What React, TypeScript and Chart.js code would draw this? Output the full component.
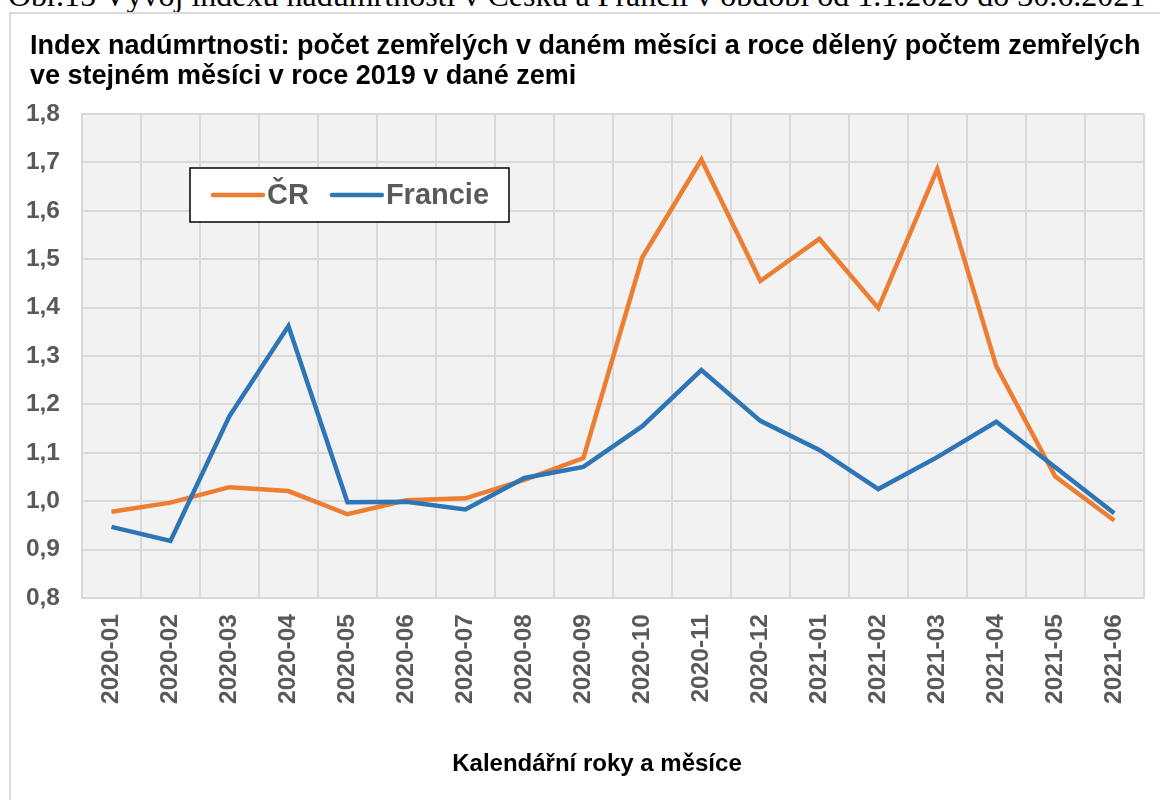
import React, { useEffect, useRef } from "react";
import { Chart, registerables } from "chart.js";

Chart.register(...registerables);

const categories: string[] = [
  "2020-01", "2020-02", "2020-03", "2020-04", "2020-05", "2020-06",
  "2020-07", "2020-08", "2020-09", "2020-10", "2020-11", "2020-12",
  "2021-01", "2021-02", "2021-03", "2021-04", "2021-05", "2021-06",
];

const crValues: number[] = [
  0.978, 0.997, 1.029, 1.021, 0.973, 1.002, 1.006, 1.044, 1.089,
  1.504, 1.706, 1.455, 1.542, 1.399, 1.686, 1.279, 1.051, 0.960,
];

const francieValues: number[] = [
  0.947, 0.918, 1.176, 1.362, 0.998, 0.999, 0.983, 1.048, 1.071,
  1.155, 1.271, 1.166, 1.106, 1.025, 1.091, 1.164, 1.070, 0.975,
];

const seriesLabels: string[] = ["ČR", "Francie"];
const seriesColors: string[] = ["#ED7D31", "#2E75B6"];

const captionText =
  "Obr.15 Vývoj indexu nadúmrtnosti v Česku a Francii v období od 1.1.2020 do 30.6.2021";
const titleLine1 =
  "Index nadúmrtnosti:  počet zemřelých v daném měsíci a roce dělený počtem zemřelých";
const titleLine2 = "ve stejném měsíci v roce 2019 v dané zemi";
const xAxisTitle = "Kalendářní roky a měsíce";

const FONT = "'Liberation Sans', Arial, sans-serif";

const plotBgPlugin = {
  id: "plotBg",
  beforeDraw(chart: any) {
    const { ctx, chartArea } = chart;
    ctx.save();
    ctx.fillStyle = "#f2f2f2";
    ctx.fillRect(chartArea.left, chartArea.top, chartArea.right - chartArea.left, chartArea.bottom - chartArea.top);
    ctx.restore();
  },
};

const innerLegendPlugin = {
  id: "innerLegend",
  afterDraw(chart: any) {
    const { ctx, chartArea } = chart;
    const x = chartArea.left + 108;
    const y = chartArea.top + 54;
    const w = 319;
    const h = 54;
    ctx.save();
    ctx.fillStyle = "#ffffff";
    ctx.fillRect(x, y, w, h);
    ctx.strokeStyle = "#000000";
    ctx.lineWidth = 1.5;
    ctx.strokeRect(x, y, w, h);
    ctx.font = `bold 29px ${FONT}`;
    ctx.textBaseline = "middle";
    ctx.textAlign = "left";
    let cx = x + 23;
    const cy = y + h / 2;
    chart.data.datasets.forEach((ds: any) => {
      ctx.strokeStyle = ds.borderColor;
      ctx.lineWidth = 4.5;
      ctx.lineCap = "round";
      ctx.beginPath();
      ctx.moveTo(cx, cy);
      ctx.lineTo(cx + 50, cy);
      ctx.stroke();
      ctx.fillStyle = "#595959";
      ctx.fillText(ds.label, cx + 54, cy + 1);
      cx += 54 + ctx.measureText(ds.label).width + 23;
    });
    ctx.restore();
  },
};

export default function App() {
  const canvasRef = useRef<HTMLCanvasElement | null>(null);

  useEffect(() => {
    if (!canvasRef.current) return;
    const chart = new Chart(canvasRef.current, {
      type: "line",
      data: {
        labels: categories,
        datasets: [
          {
            label: seriesLabels[0],
            data: crValues,
            borderColor: seriesColors[0],
            backgroundColor: seriesColors[0],
            borderWidth: 4.5,
            pointRadius: 0,
            tension: 0,
            order: 1,
          },
          {
            label: seriesLabels[1],
            data: francieValues,
            borderColor: seriesColors[1],
            backgroundColor: seriesColors[1],
            borderWidth: 4.5,
            pointRadius: 0,
            tension: 0,
            order: 0,
          },
        ],
      },
      options: {
        animation: false,
        responsive: false,
        maintainAspectRatio: false,
        layout: { padding: { top: 114, right: 13, bottom: 0, left: 0 } },
        plugins: {
          legend: { display: false },
          tooltip: { enabled: false },
          title: { display: false },
        },
        scales: {
          x: {
            type: "category",
            offset: true,
            grid: { offset: true, color: "#d9d9d9", lineWidth: 2, drawTicks: false },
            border: { display: true, color: "#d9d9d9", width: 2 },
            ticks: {
              maxRotation: 90,
              minRotation: 90,
              autoSkip: false,
              padding: 16,
              color: "#595959",
              font: { family: FONT, size: 24.5, weight: "bold" },
            },
            afterFit(scale: any) {
              scale.height = 202;
            },
          },
          y: {
            min: 0.8,
            max: 1.8,
            grid: { color: "#d9d9d9", lineWidth: 2, drawTicks: false },
            border: { display: true, color: "#d9d9d9", width: 2 },
            ticks: {
              stepSize: 0.1,
              padding: 22,
              color: "#595959",
              font: { family: FONT, size: 24.5, weight: "bold" },
              callback: (v: any) => Number(v).toFixed(1).replace(".", ","),
            },
            afterFit(scale: any) {
              scale.width = 82;
            },
          },
        },
      },
      plugins: [plotBgPlugin, innerLegendPlugin],
    });
    return () => chart.destroy();
  }, []);

  return (
    <div
      style={{
        position: "fixed",
        left: 0,
        top: 0,
        width: 1160,
        height: 800,
        overflow: "hidden",
        background: "#ffffff",
      }}
    >
      <div
        style={{
          position: "absolute",
          left: 8,
          top: -21,
          whiteSpace: "nowrap",
          fontFamily: "'Liberation Serif', 'Times New Roman', serif",
          fontSize: 32,
          lineHeight: "32px",
          color: "#000",
        }}
      >
        {captionText}
      </div>
      <div
        style={{
          position: "absolute",
          left: 9,
          top: 12,
          width: 1200,
          height: 850,
          border: "2px solid #d9d9d9",
          boxSizing: "border-box",
        }}
      />
      <canvas
        ref={canvasRef}
        width={1160}
        height={800}
        style={{ position: "absolute", left: 0, top: 0, width: 1160, height: 800 }}
      />
      <div
        style={{
          position: "absolute",
          left: 30,
          top: 30,
          width: 1107,
          fontFamily: FONT,
          fontWeight: "bold",
          fontSize: 27,
          lineHeight: "30px",
          color: "#000",
        }}
      >
        <div style={{ textAlign: "justify", textAlignLast: "justify", whiteSpace: "nowrap" }}>{titleLine1}</div>
        <div>{titleLine2}</div>
      </div>
      <div
        style={{
          position: "absolute",
          left: 397,
          top: 748,
          width: 400,
          textAlign: "center",
          fontFamily: FONT,
          fontWeight: "bold",
          fontSize: 24,
          lineHeight: "30px",
          color: "#000",
        }}
      >
        {xAxisTitle}
      </div>
    </div>
  );
}
